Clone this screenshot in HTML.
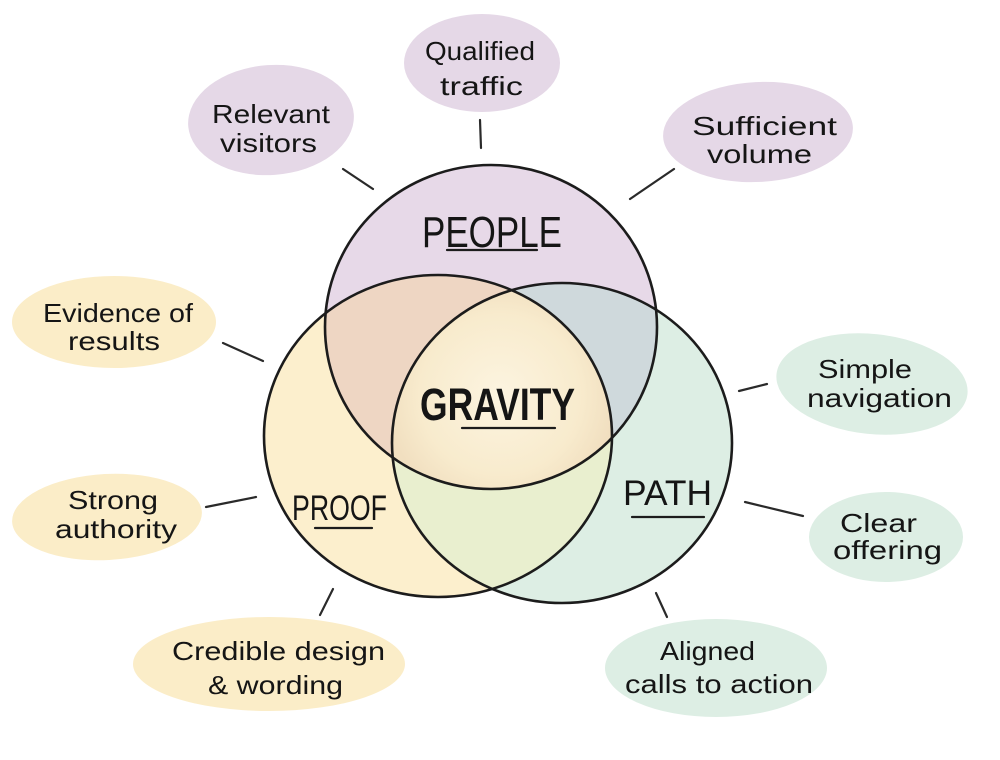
<!DOCTYPE html>
<html>
<head>
<meta charset="utf-8">
<style>
  html,body{margin:0;padding:0;background:#ffffff;}
  body{width:1000px;height:760px;overflow:hidden;}
  svg{display:block;}
  .t{font-family:"Liberation Sans","DejaVu Sans",sans-serif;fill:#151515;}
</style>
</head>
<body>
<svg width="1000" height="760" viewBox="0 0 1000 760" xmlns="http://www.w3.org/2000/svg">
  <defs>
    <clipPath id="cPeople"><ellipse cx="491" cy="327" rx="166" ry="162"/></clipPath>
    <clipPath id="cProof"><ellipse cx="438" cy="436" rx="174" ry="161"/></clipPath>
    <clipPath id="cPath"><ellipse cx="562" cy="443" rx="170" ry="160"/></clipPath>
    <radialGradient id="gc" gradientUnits="userSpaceOnUse" cx="500" cy="395" r="115">
      <stop offset="0" stop-color="#fcf4e0"/>
      <stop offset="0.7" stop-color="#f8ebcd"/>
      <stop offset="1" stop-color="#f1dfc0"/>
    </radialGradient>
  </defs>

  <rect width="1000" height="760" fill="#ffffff"/>

  <!-- Bubbles -->
  <ellipse cx="271" cy="120" rx="83" ry="55" fill="#e5d8e7" transform="rotate(-4 271 120)"/>
  <ellipse cx="482" cy="63" rx="78" ry="49" fill="#e5d8e7"/>
  <ellipse cx="758" cy="132" rx="95" ry="50" fill="#e5d8e7" transform="rotate(-3 758 132)"/>
  <ellipse cx="114" cy="322" rx="102" ry="46" fill="#fbedc8"/>
  <ellipse cx="107" cy="517" rx="95" ry="43" fill="#fbedc8" transform="rotate(-3 107 517)"/>
  <ellipse cx="269" cy="664" rx="136" ry="47" fill="#fbedc8"/>
  <ellipse cx="872" cy="384" rx="96" ry="50" fill="#ddeee4" transform="rotate(6 872 384)"/>
  <ellipse cx="886" cy="537" rx="77" ry="45" fill="#ddeee4"/>
  <ellipse cx="716" cy="668" rx="111" ry="49" fill="#ddeee4"/>

  <!-- Venn fills -->
  <ellipse cx="438" cy="436" rx="174" ry="161" fill="#fcefcd"/>
  <ellipse cx="562" cy="443" rx="170" ry="160" fill="#ddeee4"/>
  <ellipse cx="491" cy="327" rx="166" ry="162" fill="#e7d9e8"/>
  <g clip-path="url(#cProof)"><ellipse cx="562" cy="443" rx="170" ry="160" fill="#e9efcf"/></g>
  <g clip-path="url(#cPeople)"><ellipse cx="438" cy="436" rx="174" ry="161" fill="#eed6c3"/></g>
  <g clip-path="url(#cPeople)"><ellipse cx="562" cy="443" rx="170" ry="160" fill="#cfd9dc"/></g>
  <g clip-path="url(#cPeople)"><g clip-path="url(#cProof)"><ellipse cx="562" cy="443" rx="170" ry="160" fill="url(#gc)"/></g></g>

  <!-- Venn strokes -->
  <g fill="none" stroke="#1c1c1c" stroke-width="2.6">
    <ellipse cx="491" cy="327" rx="166" ry="162"/>
    <ellipse cx="438" cy="436" rx="174" ry="161"/>
    <ellipse cx="562" cy="443" rx="170" ry="160"/>
  </g>

  <!-- Connectors -->
  <g stroke="#2a2a2a" stroke-width="2.2" stroke-linecap="round">
    <line x1="343" y1="169" x2="373" y2="189"/>
    <line x1="480" y1="120" x2="481" y2="148"/>
    <line x1="674" y1="169" x2="630" y2="199"/>
    <line x1="223" y1="343" x2="263" y2="361"/>
    <line x1="206" y1="507" x2="256" y2="497"/>
    <line x1="333" y1="589" x2="320" y2="615"/>
    <line x1="739" y1="391" x2="767" y2="384"/>
    <line x1="745" y1="502" x2="803" y2="516"/>
    <line x1="656" y1="593" x2="667" y2="617"/>
  </g>

  <!-- Main labels -->
  <text class="t" x="422" y="247" font-size="44" textLength="140" lengthAdjust="spacingAndGlyphs">PEOPLE</text>
  <text class="t" x="420" y="420" font-size="45" font-weight="bold" textLength="155" lengthAdjust="spacingAndGlyphs">GRAVITY</text>
  <text class="t" x="292" y="520" font-size="35" textLength="95" lengthAdjust="spacingAndGlyphs">PROOF</text>
  <text class="t" x="623" y="505" font-size="35" textLength="89" lengthAdjust="spacingAndGlyphs">PATH</text>

  <g stroke="#1c1c1c" stroke-width="2.2" stroke-linecap="round">
    <line x1="447" y1="250" x2="537" y2="250"/>
    <line x1="462" y1="428" x2="555" y2="428"/>
    <line x1="315" y1="528" x2="372" y2="528"/>
    <line x1="632" y1="517" x2="704" y2="517"/>
  </g>

  <!-- Bubble labels -->
  <g font-size="26">
    <text class="t" x="212" y="123" textLength="118" lengthAdjust="spacingAndGlyphs">Relevant</text>
    <text class="t" x="220" y="152" textLength="97" lengthAdjust="spacingAndGlyphs">visitors</text>

    <text class="t" x="425" y="60" textLength="110" lengthAdjust="spacingAndGlyphs">Qualified</text>
    <text class="t" x="440" y="95" textLength="83" lengthAdjust="spacingAndGlyphs">traffic</text>

    <text class="t" x="692" y="135" textLength="145" lengthAdjust="spacingAndGlyphs">Sufficient</text>
    <text class="t" x="707" y="163" textLength="105" lengthAdjust="spacingAndGlyphs">volume</text>

    <text class="t" x="43" y="322" textLength="150" lengthAdjust="spacingAndGlyphs">Evidence of</text>
    <text class="t" x="68" y="350" textLength="92" lengthAdjust="spacingAndGlyphs">results</text>

    <text class="t" x="68" y="509" textLength="90" lengthAdjust="spacingAndGlyphs">Strong</text>
    <text class="t" x="55" y="538" textLength="122" lengthAdjust="spacingAndGlyphs">authority</text>

    <text class="t" x="172" y="660" textLength="213" lengthAdjust="spacingAndGlyphs">Credible design</text>
    <text class="t" x="208" y="694" textLength="135" lengthAdjust="spacingAndGlyphs">&amp; wording</text>

    <text class="t" x="818" y="378" textLength="94" lengthAdjust="spacingAndGlyphs">Simple</text>
    <text class="t" x="807" y="407" textLength="145" lengthAdjust="spacingAndGlyphs">navigation</text>

    <text class="t" x="840" y="532" textLength="77" lengthAdjust="spacingAndGlyphs">Clear</text>
    <text class="t" x="833" y="559" textLength="109" lengthAdjust="spacingAndGlyphs">offering</text>

    <text class="t" x="660" y="660" textLength="95" lengthAdjust="spacingAndGlyphs">Aligned</text>
    <text class="t" x="625" y="693" textLength="188" lengthAdjust="spacingAndGlyphs">calls to action</text>
  </g>
</svg>
</body>
</html>
